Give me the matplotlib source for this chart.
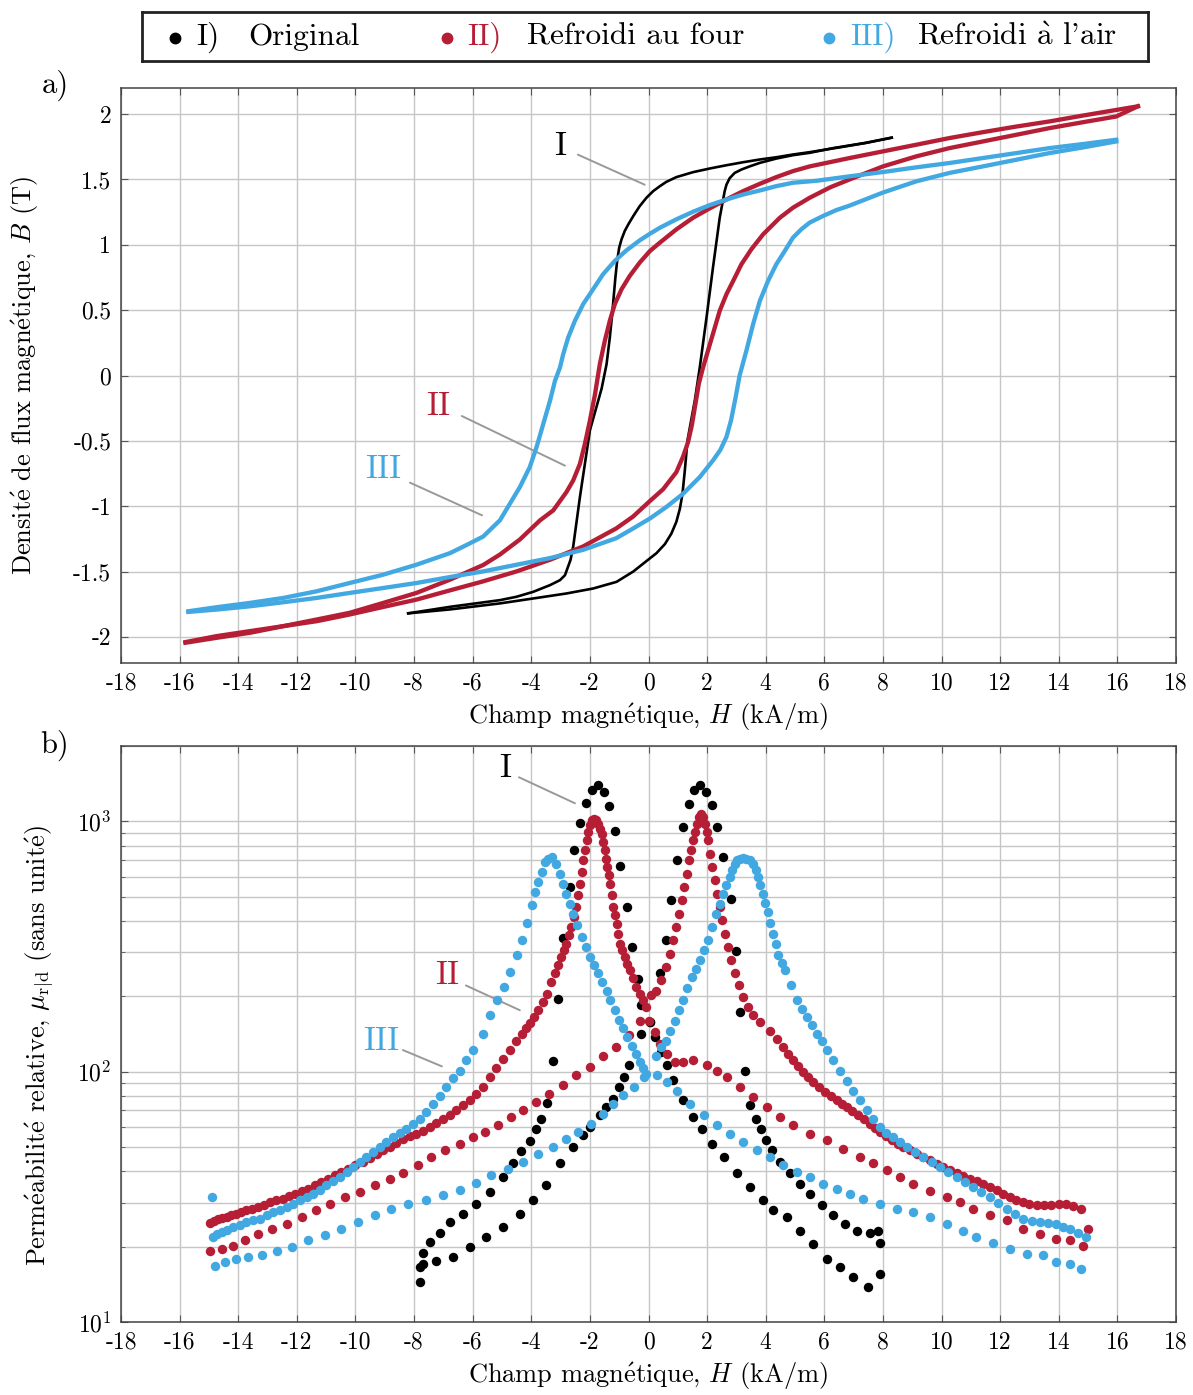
#! /usr/bin/python3

# Hysteresis loops B(H) and relative permeability for three samples

import numpy as np
import matplotlib as mpl
mpl.use("Agg")
import matplotlib.pyplot as plt

plt.rcParams['font.family'] = ['cmr10', 'DejaVu Serif']
plt.rcParams['mathtext.fontset'] = 'cm'
plt.rcParams['axes.unicode_minus'] = False
plt.rcParams['axes.formatter.use_mathtext'] = True

black = "#000000"
red = "#B61E36"
blue = "#42A8E2"

# cmr10 has no accented glyphs, so accents go through mathtext
e_ac = r"$\acute{\mathrm{e}}$"
a_gr = r"$\grave{\mathrm{a}}$"

## a) hysteresis loops, H in kA/m, B in T (dn = H decreasing, up = H increasing)
I_dn_H = [8.3, 7.43, 6.5, 5.5, 4.93, 4.36, 3.8, 3.23, 2.66, 2.09, 1.52, 0.95, 0.61, 0.39, 0.16,
          -0.07, -0.3, -0.52, -0.69, -0.81, -0.92, -1.0, -1.07, -1.13, -1.18, -1.24, -1.32,
          -1.43, -1.6, -2.0, -2.34, -2.57, -2.66, -2.74, -2.85, -3.02, -3.36, -3.93, -4.5,
          -5.07, -6.77, -8.2]
I_dn_B = [1.82, 1.78, 1.745, 1.709, 1.691, 1.67, 1.653, 1.632, 1.609, 1.584, 1.556, 1.518,
          1.482, 1.449, 1.411, 1.36, 1.296, 1.22, 1.156, 1.106, 1.042, 0.978, 0.877, 0.749,
          0.622, 0.469, 0.291, 0.088, -0.1, -0.42, -0.93, -1.31, -1.41, -1.46, -1.528, -1.566,
          -1.604, -1.655, -1.693, -1.719, -1.77, -1.82]
I_up_H = [-8.2, -6.77, -5.07, -3.93, -2.8, -1.89, -1.09, -0.52, -0.07, 0.27, 0.56, 0.78, 0.95,
          1.07, 1.16, 1.24, 1.33, 1.58, 1.75, 1.98, 2.2, 2.43, 2.6, 2.66, 2.77, 2.94, 3.17,
          3.45, 3.8, 4.36, 4.93, 5.5, 6.3, 7.4, 8.3]
I_up_B = [-1.82, -1.79, -1.744, -1.706, -1.668, -1.63, -1.579, -1.50, -1.42, -1.36, -1.29,
          -1.21, -1.12, -1.02, -0.905, -0.726, -0.497, -0.192, 0.062, 0.444, 0.826, 1.207,
          1.411, 1.46, 1.51, 1.55, 1.576, 1.60, 1.627, 1.66, 1.686, 1.704, 1.74, 1.78, 1.82]

II_dn_H = [16.7, 15.96, 14.82, 13.68, 12.55, 11.41, 10.27, 9.14, 8.0, 6.86, 5.5, 4.93, 4.36,
           3.8, 3.23, 2.66, 2.09, 1.52, 0.95, 0.39, 0.05, -0.3, -0.64, -0.92, -1.15, -1.32,
           -1.49, -1.66, -1.83, -2.0, -2.17, -2.34, -2.57, -2.8, -3.25, -3.7, -4.39, -5.07,
           -5.64, -6.77, -7.92, -9.05, -10.2, -11.32, -12.46, -13.6, -14.73, -15.8]
II_dn_B = [2.06, 2.032, 1.989, 1.944, 1.905, 1.862, 1.817, 1.766, 1.715, 1.664, 1.60, 1.564,
           1.518, 1.467, 1.411, 1.347, 1.279, 1.207, 1.118, 1.017, 0.953, 0.864, 0.762, 0.66,
           0.546, 0.419, 0.266, 0.088, -0.15, -0.345, -0.523, -0.676, -0.803, -0.892, -1.032,
           -1.108, -1.255, -1.37, -1.45, -1.562, -1.664, -1.74, -1.816, -1.867, -1.918,
           -1.956, -1.994, -2.04]
II_up_H = [-15.8, -14.73, -13.6, -12.46, -11.32, -10.2, -9.05, -7.92, -6.77, -5.64, -4.5,
           -3.36, -2.23, -1.1, -0.53, 0.05, 0.5, 0.95, 1.18, 1.35, 1.48, 1.6, 1.72, 1.86,
           2.03, 2.23, 2.43, 2.66, 2.89, 3.17, 3.51, 3.91, 4.48, 4.93, 5.5, 6.2, 6.86, 8.0,
           9.14, 10.27, 11.41, 12.55, 13.68, 14.82, 15.96, 16.7]
II_up_B = [-2.045, -2.007, -1.969, -1.918, -1.88, -1.829, -1.771, -1.715, -1.644, -1.575,
           -1.499, -1.41, -1.308, -1.17, -1.08, -0.96, -0.87, -0.74, -0.62, -0.51, -0.38,
           -0.22, -0.06, 0.06, 0.19, 0.342, 0.495, 0.622, 0.724, 0.851, 0.966, 1.08, 1.207,
           1.284, 1.36, 1.44, 1.50, 1.60, 1.677, 1.74, 1.791, 1.842, 1.893, 1.938, 1.982, 2.06]

III_dn_H = [15.96, 14.82, 13.68, 12.55, 11.41, 10.27, 9.14, 8.0, 6.86, 5.73, 4.93, 4.36, 3.8,
            3.23, 2.66, 2.09, 1.52, 0.95, 0.39, 0.05, -0.3, -0.75, -1.15, -1.55, -1.89, -2.23,
            -2.51, -2.74, -2.91, -3.02, -3.19, -3.36, -3.59, -3.82, -4.05, -4.39, -4.73, -5.07,
            -5.64, -6.2, -6.77, -7.92, -9.05, -10.2, -11.32, -12.46, -13.6, -14.73, -15.7]
III_dn_B = [1.804, 1.771, 1.74, 1.702, 1.664, 1.626, 1.593, 1.557, 1.524, 1.49, 1.475, 1.449,
            1.416, 1.385, 1.347, 1.304, 1.253, 1.195, 1.131, 1.085, 1.034, 0.958, 0.877, 0.775,
            0.66, 0.546, 0.419, 0.291, 0.164, 0.062, -0.04, -0.192, -0.37, -0.548, -0.70,
            -0.854, -0.981, -1.108, -1.232, -1.296, -1.359, -1.448, -1.524, -1.588, -1.651,
            -1.702, -1.74, -1.773, -1.804]
III_up_H = [-15.7, -14.73, -13.6, -12.46, -11.32, -10.2, -9.05, -7.92, -6.77, -5.64, -4.5,
            -3.36, -2.23, -1.1, -0.52, 0.05, 0.61, 1.18, 1.75, 2.2, 2.45, 2.66, 2.82, 2.97,
            3.11, 3.34, 3.57, 3.8, 4.08, 4.36, 4.65, 4.93, 5.22, 5.5, 5.95, 6.4, 6.86, 8.0,
            9.14, 10.27, 11.41, 12.55, 13.68, 14.82, 15.96]
III_up_B = [-1.809, -1.791, -1.766, -1.735, -1.702, -1.664, -1.626, -1.588, -1.542, -1.499,
            -1.448, -1.397, -1.334, -1.245, -1.17, -1.094, -1.006, -0.905, -0.777, -0.65,
            -0.57, -0.47, -0.34, -0.17, 0.0, 0.19, 0.393, 0.571, 0.724, 0.851, 0.953, 1.055,
            1.12, 1.17, 1.22, 1.265, 1.30, 1.40, 1.486, 1.55, 1.60, 1.651, 1.702, 1.745, 1.791]

## b) relative permeability (H in kA/m, mu without unit)
mu_I_dn_H = [7.9, 7.5, 6.99, 6.53, 6.08, 5.63, 5.17, 4.72, 4.26, 3.92, 3.47, 3.01, 2.56, 2.16,
             1.82, 1.53, 1.19, 0.85, 0.63, 0.42, 0.23, 0.05, -0.24, -0.35, -0.58, -0.75, -0.98,
             -1.15, -1.34, -1.52, -1.74, -1.94, -2.14, -2.34, -2.53, -2.68, -2.91, -3.08, -3.27,
             -3.45, -3.66, -3.83, -4.06, -4.34, -4.63, -4.97, -5.42, -5.88, -6.33, -6.78, -7.13,
             -7.47, -7.69, -7.81, -7.81]
mu_I_dn = [15.6, 13.8, 15.1, 16.6, 17.9, 20.5, 23.2, 26.3, 27.9, 30.6, 34.6, 39.2, 45.6, 51.5,
           59.2, 65.9, 76.9, 92.3, 106, 120, 138, 158, 184, 235, 315, 455, 661,
           914, 1148, 1310, 1393, 1330, 1183, 988, 766, 547, 343, 196, 110,
           75, 65, 59, 53, 48, 43, 38, 33, 29.7, 27.1, 25.1, 22.6,
           20.9, 18.8, 16.6, 14.5]
mu_I_up_H = [-7.69, -7.24, -6.67, -6.1, -5.53, -4.97, -4.4, -3.94, -3.49, -3.03, -2.58, -2.24,
             -2.01, -1.67, -1.44, -1.22, -0.99, -0.82, -0.65, -0.25, 0.05, 0.39, 0.59, 0.78,
             0.98, 1.18, 1.38, 1.55, 1.75, 1.95, 2.17, 2.35, 2.55, 2.8, 2.97, 3.13, 3.3, 3.47,
             3.66, 3.83, 4.01, 4.2, 4.49, 4.83, 5.17, 5.51, 5.91, 6.31, 6.7, 7.1, 7.56, 7.84, 7.9]
mu_I_up = [17.1, 17.6, 18.2, 20, 21.9, 24, 27.1, 30.6, 35.2, 43, 50, 55.7,
           60.1, 67, 72.3, 78, 86.9, 95.3, 106, 142, 158, 247, 335, 484,
           698, 948, 1176, 1330, 1393, 1310, 1159, 948, 720, 490, 304, 173, 101, 73.4,
           64.9, 59.2, 53.2, 48.5, 43.6, 39.2, 35.7, 32.6, 29.3, 26.7, 24.7, 23.2, 22.6, 23.2, 20.6]

mu_II_up_H = [-14.97, -14.57, -14.17, -13.77, -13.32, -12.86, -12.35, -11.84, -11.33, -10.88,
              -10.36, -9.85, -9.34, -8.83, -8.38, -7.86, -7.41, -6.95, -6.44, -5.99, -5.59,
              -5.14, -4.68, -4.28, -3.83, -3.38, -2.92, -2.47, -2.01, -1.56, -1.1, -0.65, -0.3,
              -0.07, 0.1, 0.27, 0.44, 0.61, 0.73, 0.84, 0.95, 1.05, 1.14, 1.22, 1.3, 1.39, 1.45,
              1.52, 1.59, 1.66, 1.73, 1.78, 1.85, 1.92, 1.98, 2.03, 2.1, 2.18, 2.26, 2.34, 2.43,
              2.52, 2.61, 2.72, 2.83, 2.94, 3.08, 3.23, 3.4, 3.57, 3.8, 4.15, 4.38, 4.6, 4.77,
              4.94, 5.11, 5.28, 5.45, 5.63, 5.82, 6.02, 6.22, 6.42, 6.59, 6.76, 6.96, 7.16, 7.36,
              7.56, 7.73, 7.9, 8.1, 8.3, 8.5, 8.69, 8.92, 9.15, 9.38, 9.6, 9.83, 10.06, 10.28,
              10.51, 10.74, 10.97, 11.2, 11.42, 11.65, 11.88, 12.1, 12.33, 12.55, 12.78, 13.0,
              13.24, 13.5, 13.75, 14.0, 14.26, 14.5, 14.77, 15.0]
mu_II_up = [19.3, 19.6, 20.2, 21.2, 22.5, 23.6, 24.7, 26.3, 27.9, 29.7,
            31.6, 33, 35.2, 37.4, 39.2, 42.3, 45.6, 48.5, 51.5, 54.8, 57.4,
            61.1, 65.9, 70.1, 75.7, 81.7, 88.1, 96.6, 104, 115, 126, 140, 160,
            182, 202, 211, 232, 262, 296, 335, 379, 427, 483, 547, 618, 698, 766,
            839, 906, 979, 1040, 1074, 1040, 979, 906, 839, 743, 658, 581, 514, 455,
            403, 356, 315, 279, 247, 221, 199, 181, 168, 158, 145, 135, 126, 118,
            111, 105, 99.7, 95, 91, 87, 83, 80, 76.8, 74.5, 72.3, 69.5, 67, 64.5,
            62, 59.7, 57.4, 55.2, 53.2, 51.5, 50, 48.5, 47, 45.6, 44.2, 42.9, 41.6, 40.4,
            39.2, 38.3, 37.4, 36.5, 35.7, 34.6, 33.6, 32.6, 31.6, 30.8, 30.1, 29.7,
            29.3, 29.3, 29.3, 29.5, 29.7, 29.1, 28.4, 23.6]
mu_II_dn_H = [14.83, 14.38, 13.92, 13.35, 12.78, 12.22, 11.65, 11.08, 10.63, 10.17, 9.6, 9.03,
              8.58, 8.13, 7.67, 7.22, 6.65, 6.08, 5.51, 4.94, 4.49, 4.03, 3.58, 3.13, 2.67,
              2.33, 1.99, 1.53, 1.19, 0.91, 0.63, 0.4, 0.23, 0.0, -0.18, -0.3, -0.41, -0.52,
              -0.64, -0.73, -0.81, -0.9, -0.98, -1.03, -1.09, -1.15, -1.2, -1.26, -1.32, -1.36,
              -1.41, -1.45, -1.49, -1.55, -1.6, -1.66, -1.72, -1.8, -1.86, -1.93, -2.0, -2.06,
              -2.11, -2.17, -2.23, -2.28, -2.34, -2.41, -2.48, -2.55, -2.63, -2.7, -2.8, -2.89,
              -2.97, -3.08, -3.19, -3.33, -3.48, -3.61, -3.76, -3.91, -4.05, -4.18, -4.33,
              -4.53, -4.74, -4.96, -5.19, -5.42, -5.65, -5.88, -6.1, -6.33, -6.56, -6.78, -7.01,
              -7.24, -7.47, -7.7, -7.92, -8.15, -8.38, -8.6, -8.83, -9.06, -9.28, -9.51, -9.74,
              -10.0, -10.25, -10.48, -10.7, -10.93, -11.16, -11.39, -11.61, -11.84, -12.07,
              -12.27, -12.47, -12.7, -12.92, -13.12, -13.32, -13.52, -13.72, -13.89, -14.06,
              -14.23, -14.4, -14.54, -14.68, -14.83, -14.97]
mu_II_dn = [20.2, 21.2, 21.5, 22.5, 23.6, 25.5, 26.7, 28.4, 30.1, 31.6, 33.4, 35.7,
            37.9, 40.4, 43, 45.6, 49.2, 53.2, 56.5, 61.1, 65.9, 72.3, 79.3, 86.9, 95.3,
            101, 106, 111, 109, 109, 118, 129, 144, 160, 193, 205, 218, 236,
            254, 270, 287, 305, 324, 356, 390, 421, 455, 506, 564, 608,
            658, 710, 766, 826, 893, 935, 980, 1009, 1025, 1009, 964, 906,
            839, 766, 698, 628, 564, 506, 455, 415, 378, 351, 324, 305,
            287, 266, 247, 228, 205, 190, 176, 165, 156, 149, 142,
            132, 122, 112, 103, 95, 86.9, 81.5, 76.8, 73.3, 70.1, 67.4, 64.9,
            62.4, 60.1, 58.2, 56.5, 55.2, 54, 52, 50, 48.5, 47, 45.3, 43.6,
            42.3, 41, 39.7, 38.5, 37.4, 36.3, 35.2, 34.1, 33.3, 32.6,
            31.8, 31.1, 30.6, 30.1, 29.4, 28.8, 28.3, 27.9, 27.5, 27.1,
            26.7, 26.3, 26.1, 25.9, 25.4, 24.9]

mu_III_up_H = [-14.8, -14.45, -14.06, -13.66, -13.2, -12.69, -12.18, -11.61, -11.05, -10.48,
               -9.91, -9.34, -8.77, -8.2, -7.58, -7.01, -6.44, -5.88, -5.36, -4.8, -4.28, -3.77,
               -3.26, -2.81, -2.41, -1.95, -1.56, -1.22, -0.88, -0.48, -0.14, 0.27, 0.44, 0.61,
               0.75, 0.9, 1.05, 1.18, 1.33, 1.47, 1.61, 1.75, 1.9, 2.03, 2.18, 2.32, 2.43, 2.55,
               2.66, 2.77, 2.86, 2.94, 3.02, 3.11, 3.23, 3.34, 3.45, 3.57, 3.66, 3.74, 3.82,
               3.91, 3.99, 4.08, 4.16, 4.25, 4.34, 4.42, 4.55, 4.67, 4.85, 5.06, 5.23, 5.4,
               5.57, 5.74, 5.91, 6.08, 6.3, 6.53, 6.76, 6.99, 7.22, 7.44, 7.67, 7.9, 8.12, 8.35,
               8.58, 8.81, 9.1, 9.38, 9.66, 9.94, 10.22, 10.51, 10.8, 11.08, 11.36, 11.65,
               11.93, 12.22, 12.5, 12.78, 13.07, 13.35, 13.64, 13.92, 14.15, 14.38, 14.66, 14.94]
mu_III_up = [16.8, 17.4, 17.8, 18.1, 18.5, 19.3, 20, 21.3, 22.3, 23.6,
             25.1, 26.7, 28.4, 29.5, 30.6, 32.1, 33.6, 35.9, 38.5, 41, 43.6, 46.8,
             50, 54, 57.4, 62, 67.9, 74.5, 80.5, 86.9, 95.3, 115, 126, 133,
             146, 160, 176, 193, 215, 239, 258, 279, 305, 335, 379, 428, 469, 514,
             555, 600, 637, 678, 698, 710, 714, 710, 698, 678, 637, 600, 555,
             514, 472, 435, 393, 356, 323, 292, 272, 255, 222, 193, 178, 165,
             153, 142, 132, 122, 111, 101, 92, 84.1, 77, 70.1, 65, 60.1, 57, 54.8,
             52.3, 50, 47.7, 45.6, 43.5, 41.6, 39.7, 37.9, 36.2, 34.6, 33, 31.6,
             30, 28.4, 27.1, 25.9, 25.4, 25.1, 24.9, 24.7, 24, 23.6, 22.7, 21.9]
mu_III_dn_H = [14.77, 14.38, 13.92, 13.47, 12.9, 12.33, 11.76, 11.19, 10.74, 10.17, 9.6, 9.03,
               8.47, 7.9, 7.33, 6.88, 6.42, 5.97, 5.51, 5.06, 4.6, 4.15, 3.69, 3.24, 2.78, 2.33,
               1.88, 1.42, 0.97, 0.63, 0.28, -0.07, -0.18, -0.3, -0.43, -0.58, -0.72, -0.86,
               -1.0, -1.15, -1.3, -1.43, -1.57, -1.72, -1.86, -2.0, -2.14, -2.28, -2.43, -2.57,
               -2.68, -2.8, -2.91, -3.02, -3.14, -3.3, -3.42, -3.53, -3.64, -3.76, -3.88, -3.98,
               -4.15, -4.32, -4.49, -4.72, -4.94, -5.17, -5.4, -5.65, -5.99, -6.22, -6.44, -6.67,
               -6.9, -7.12, -7.35, -7.58, -7.81, -8.03, -8.26, -8.49, -8.72, -8.95, -9.17, -9.4,
               -9.63, -9.86, -10.08, -10.3, -10.53, -10.76, -10.99, -11.22, -11.44, -11.67,
               -11.9, -12.12, -12.35, -12.58, -12.81, -13.03, -13.26, -13.49, -13.72, -13.94,
               -14.17, -14.37, -14.57, -14.71, -14.85, -14.9]
mu_III_dn = [16.3, 17.1, 17.4, 18.5, 18.7, 19.6, 20.6, 21.9, 23.2, 24.7, 26.3, 27.5,
             28.4, 29.7, 31.1, 32.6, 34.1, 35.7, 37.9, 39.7, 42.3, 45.6, 48.5, 52.4, 56.5, 61.1,
             67, 74.5, 84, 91, 97, 98, 103, 109, 118, 127, 138, 149,
             161, 176, 193, 211, 228, 247, 266, 287, 315, 345, 385, 428,
             469, 514, 564, 618, 678, 721, 710, 690, 628, 573, 520, 463,
             391, 335, 292, 250, 218, 193, 168, 142, 122, 111, 101, 94,
             86.9, 80, 74.5, 69, 64.9, 62, 59.2, 57, 54.8, 52.3, 50, 47.7,
             45.6, 43.5, 41.6, 39.7, 37.9, 36.5, 35.2, 33.8, 32.6, 31.6,
             30.6, 29.7, 28.8, 28.1, 27.5, 26.7, 25.9, 25.5, 25.1, 24.5,
             24, 23.4, 22.9, 22.4, 21.9, 31.5]

xticks = np.arange(-18, 19, 2)
xlabels = [str(t) for t in xticks]
bticks = [-2, -1.5, -1, -0.5, 0, 0.5, 1, 1.5, 2]
blabels = ["-2", "-1.5", "-1", "-0.5", "0", "0.5", "1", "1.5", "2"]

fs = 17
lab_fs = 19
ann_fs = 24

fig = plt.figure(figsize=(11.93, 13.95), dpi=100, facecolor="w")
ax1 = fig.add_axes([121/1193, 1-663/1395, 1055/1193, 575/1395])
ax2 = fig.add_axes([121/1193, 1-1322/1395, 1055/1193, 576/1395])

xlab = r"Champ magn" + e_ac + r"tique, $H$ (kA/m)"


def style(ax):
    ax.set_xlim(-18, 18)
    ax.set_xticks(xticks)
    ax.set_xticklabels(xlabels, fontsize=fs)
    ax.grid(True, which="both", color="#c6c6c6", lw=1.0)
    ax.set_axisbelow(True)
    ax.tick_params(which="both", direction="in", top=True, right=True, color="#555555")
    ax.tick_params(which="major", length=5, pad=7)
    ax.tick_params(which="minor", length=3)
    for s in ax.spines.values():
        s.set_color("#444444")
        s.set_linewidth(1.1)
    ax.set_xlabel(xlab, fontsize=lab_fs, labelpad=5)


# top panel
ax1.plot(I_dn_H, I_dn_B, color=black, lw=1.9, zorder=3)
ax1.plot(I_up_H, I_up_B, color=black, lw=1.9, zorder=3)
ax1.plot(II_dn_H, II_dn_B, color=red, lw=3.1, zorder=4)
ax1.plot(II_up_H, II_up_B, color=red, lw=3.1, zorder=4)
ax1.plot(III_dn_H, III_dn_B, color=blue, lw=3.1, zorder=5)
ax1.plot(III_up_H, III_up_B, color=blue, lw=3.1, zorder=5)
style(ax1)
ax1.set_ylim(-2.2, 2.2)
ax1.set_yticks(bticks)
ax1.set_yticklabels(blabels, fontsize=fs)
ax1.set_ylabel("Densit" + e_ac + " de flux magn" + e_ac + r"tique, $B$ (T)", fontsize=lab_fs)
ax1.yaxis.set_label_coords(-0.076, 0.5)

ann = dict(arrowstyle="-", color="#999999", lw=1.4, shrinkA=0, shrinkB=0)
ax1.text(-3.02, 1.75, "I", fontsize=ann_fs, color=black, ha="center", va="center")
ax1.annotate("", xy=(-0.13, 1.46), xytext=(-2.41, 1.69), arrowprops=ann)
ax1.text(-7.18, -0.24, "II", fontsize=ann_fs, color=red, ha="center", va="center")
ax1.annotate("", xy=(-2.85, -0.69), xytext=(-6.37, -0.31), arrowprops=ann)
ax1.text(-9.06, -0.72, "III", fontsize=ann_fs, color=blue, ha="center", va="center")
ax1.annotate("", xy=(-5.68, -1.07), xytext=(-8.14, -0.82), arrowprops=ann)

# bottom panel
ms = 6.8
ax2.plot(mu_I_dn_H, mu_I_dn, "o", color=black, ms=ms, mec="none", zorder=3)
ax2.plot(mu_I_up_H, mu_I_up, "o", color=black, ms=ms, mec="none", zorder=3)
ax2.plot(mu_II_dn_H, mu_II_dn, "o", color=red, ms=ms, mec="none", zorder=4)
ax2.plot(mu_II_up_H, mu_II_up, "o", color=red, ms=ms, mec="none", zorder=4)
ax2.plot(mu_III_dn_H, mu_III_dn, "o", color=blue, ms=ms, mec="none", zorder=5)
ax2.plot(mu_III_up_H, mu_III_up, "o", color=blue, ms=ms, mec="none", zorder=5)
style(ax2)
ax2.set_yscale("log")
ax2.set_ylim(10, 2000)
ax2.set_yticks([10, 100, 1000])
ax2.set_yticklabels([r"$10^{1}$", r"$10^{2}$", r"$10^{3}$"], fontsize=fs)
ax2.yaxis.set_minor_locator(mpl.ticker.LogLocator(base=10, subs=np.arange(2, 10)))
ax2.yaxis.set_minor_formatter(mpl.ticker.NullFormatter())
ax2.set_ylabel("Perm" + e_ac + "abilit" + e_ac +
               r" relative, $\mu_{\mathrm{r}|\mathrm{d}}$ (sans unit" + e_ac + ")",
               fontsize=lab_fs)
ax2.yaxis.set_label_coords(-0.062, 0.48)

ax2.text(-4.9, 1630, "I", fontsize=ann_fs, color=black, ha="center", va="center")
ax2.annotate("", xy=(-2.51, 1181), xytext=(-4.42, 1500), arrowprops=ann)
ax2.text(-6.87, 243, "II", fontsize=ann_fs, color=red, ha="center", va="center")
ax2.annotate("", xy=(-4.39, 176), xytext=(-6.23, 221), arrowprops=ann)
ax2.text(-9.12, 132, "III", fontsize=ann_fs, color=blue, ha="center", va="center")
ax2.annotate("", xy=(-7.05, 105), xytext=(-8.38, 122), arrowprops=ann)

fig.text(55/1193, 1-85/1395, "a)", fontsize=22, ha="center", va="center")
fig.text(55/1193, 1-745/1395, "b)", fontsize=22, ha="center", va="center")

# legend box drawn by hand (pixel coordinates inside the box)
axl = fig.add_axes([142/1193, 1-61/1395, 1006/1193, 49/1395])
axl.set_xlim(142, 1148)
axl.set_ylim(61, 12)
axl.set_xticks([])
axl.set_yticks([])
for s in axl.spines.values():
    s.set_linewidth(2)
    s.set_color("#222222")
lfs = 22.5
axl.plot([175], [38], "o", color=black, ms=7.5)
axl.text(196, 37, "I)", fontsize=lfs, color=black, va="center")
axl.text(248, 37, "Original", fontsize=lfs, color=black, va="center")
axl.plot([447], [38], "o", color=red, ms=7.5)
axl.text(467, 37, "II)", fontsize=lfs, color=red, va="center")
axl.text(527, 37, "Refroidi au four", fontsize=lfs, color=black, va="center")
axl.plot([829], [38], "o", color=blue, ms=7.5)
axl.text(850, 37, "III)", fontsize=lfs, color=blue, va="center")
axl.text(917, 37, "Refroidi " + a_gr + " l'air", fontsize=lfs, color=black, va="center")

plt.savefig("out.png", dpi=100)
